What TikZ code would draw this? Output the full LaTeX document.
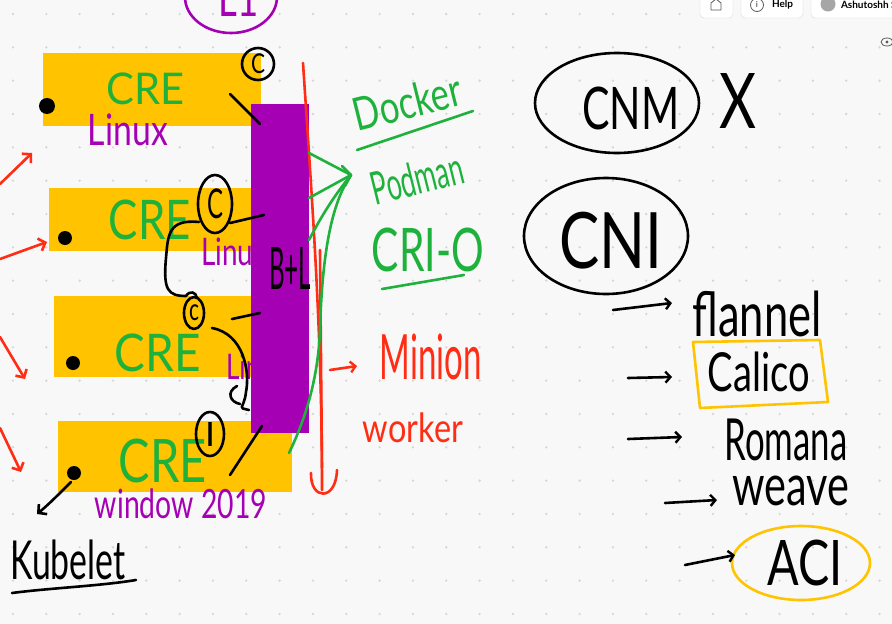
\documentclass[tikz,border=0pt]{standalone}
\usepackage{graphicx}
\usepackage{fontspec}
\setmainfont{Lato}
\usetikzlibrary{arrows.meta}
\definecolor{bgc}{RGB}{248,248,248}
\definecolor{dotc}{RGB}{214,214,214}
\definecolor{yel}{RGB}{255,195,0}
\definecolor{pur}{RGB}{166,0,180}
\definecolor{grn}{RGB}{30,178,60}
\definecolor{redc}{RGB}{255,45,20}
\definecolor{btnb}{RGB}{215,215,215}
\definecolor{icon}{RGB}{90,90,90}
\newcommand{\hw}[3]{\resizebox*{#1}{#2}{#3}}
\begin{document}
\begin{tikzpicture}[x=1pt,y=-1pt,
  hand/.style={line width=2.6pt, line cap=round, line join=round},
  txt/.style={inner sep=0pt, outer sep=0pt},
  barb/.style={-{Straight Barb[length=6pt,width=13pt,line width=2.6pt]}},
  hook/.style={-{Straight Barb[length=5pt,width=11pt,line width=2.4pt]}},
]
\useasboundingbox (0,0) rectangle (892,624);
\clip (0,0) rectangle (892,624);
\fill[bgc] (0,0) rectangle (892,624);
\foreach \i in {0,...,26}{\foreach \j in {0,...,18}{\fill[dotc] ({13+33.33*\i},{14+33.33*\j}) circle (1.3);}}

% toolbar
\filldraw[fill=white, draw=btnb, rounded corners=4pt] (700,-8) rectangle (733,18);
\draw[icon, line width=0.8pt, line join=round] (711,10)--(711,3)--(716,-1)--(721,3)--(721,10)--cycle;
\filldraw[fill=white, draw=btnb, rounded corners=4pt] (741,-8) rectangle (803,18);
\draw[icon, line width=0.8pt] (757,5) circle (6.5);
\node[txt, icon] (info) at (757,5) {\fontsize{8}{8}\selectfont\bfseries i};
\node[txt, anchor=west] (help) at (772,5) {\fontsize{10}{10}\selectfont\bfseries Help};
\filldraw[fill=white, draw=btnb, rounded corners=4pt] (811,-8) rectangle (900,18);
\fill[gray!70] (828,4) circle (7.5);
\node[txt, anchor=west] (user) at (841,5) {\fontsize{10}{10}\selectfont\bfseries Ashutoshh S};
\draw[icon, line width=0.8pt] (887,42) ellipse (6 and 4);
\fill[icon] (887,42) circle (1.6);

% purple ellipse at top
\node[txt, pur] (lone) at (239,-2) {\hw{40pt}{36pt}{L1}};
\draw[hand, pur] (231,-3) ellipse (46 and 36);

% yellow boxes
\fill[yel] (43,53) rectangle (261,126);
\fill[yel] (49,188) rectangle (255,251);
\fill[yel] (54,296) rectangle (255,377);
\fill[yel] (58,421) rectangle (292,492);

% texts in boxes
\node[txt, grn] (cre1) at (146,89) {\hw{78pt}{32pt}{CRE}};
\node[txt, grn] (cre2) at (150,220) {\hw{82pt}{40pt}{CRE}};
\node[txt, grn] (cre3) at (158,353) {\hw{86pt}{38pt}{CRE}};
\node[txt, grn] (cre4) at (163,461) {\hw{88pt}{44pt}{CRE}};
\node[txt, pur] (lin1) at (128,130) {\hw{80pt}{32pt}{Linux}};
\node[txt, pur, anchor=west] (lin2) at (201,252) {\hw{66pt}{28pt}{Linux}};
\node[txt, pur, anchor=west] (lin3) at (226,367) {\hw{62pt}{26pt}{Linux}};
\node[txt, pur] (win) at (181,504) {\hw{172pt}{30pt}{window 2019}};

% black dots
\fill (47,106) circle (8);
\fill (65,238) circle (7);
\fill (73,363) circle (7);
\fill (74,473) circle (7);
\coordinate (d4) at (71,482);
\coordinate (d4end) at (37,514);
\draw[hand, barb] (d4) .. controls (58,495) and (48,505) .. (d4end);

% Kubelet
\node[txt] (kub) at (68,560) {\hw{115pt}{40pt}{Kubelet}};
\coordinate (ku1) at (12,593);
\coordinate (ku2) at (136,580);
\draw[hand] (ku1) .. controls (50,588) and (100,586) .. (ku2);

% red arrows left
\coordinate (ra1) at (0,184); \coordinate (rb1) at (32,153);
\coordinate (ra2) at (0,259); \coordinate (rb2) at (47,242);
\coordinate (ra3) at (0,337); \coordinate (rb3) at (25,379);
\coordinate (ra4) at (0,428); \coordinate (rb4) at (21,472);
\draw[hand, redc, barb] (ra1) -- (rb1);
\draw[hand, redc, barb] (ra2) -- (rb2);
\draw[hand, redc, barb] (ra3) -- (rb3);
\draw[hand, redc, barb] (ra4) -- (rb4);

% purple bar
\fill[pur] (251,104) rectangle (309,433);
\node[txt] (bl) at (290,268) {\hw{42pt}{42pt}{B+L}};

% containers
\node[txt] (c1) at (258,64) {\hw{14pt}{20pt}{C}};
\draw[hand] (c1) ellipse (16 and 16);
\node[txt] (c2) at (215,204) {\hw{16pt}{30pt}{C}};
\draw[hand] (c2) ellipse (17 and 29);
\node[txt] (c3) at (194,313) {\hw{10pt}{16pt}{c}};
\draw[hand] (c3) ellipse (10 and 16);
\node[txt] (c4) at (210,434) {\hw{10pt}{24pt}{I}};
\draw[hand] (c4) ellipse (14 and 22);

% lines from containers to bar
\coordinate (l1a) at (230,94); \coordinate (l1b) at (260,124);
\coordinate (l2a) at (230,223); \coordinate (l2b) at (264,215);
\coordinate (l3a) at (232,319); \coordinate (l3b) at (260,313);
\coordinate (l4a) at (230,475); \coordinate (l4b) at (262,426);
\draw[hand] (l1a) -- (l1b);
\draw[hand] (l2a) -- (l2b);
\draw[hand] (l3a) -- (l3b);
\draw[hand] (l4a) -- (l4b);

% brackets
\draw[hand] (199,222) .. controls (168,219) and (168,235) .. (166,258) .. controls (163,290) and (168,296) .. (186,296);
\draw[hand] (186,296) .. controls (190,290) and (196,292) .. (197,298);
\draw[hand] (212,328) .. controls (244,334) and (250,372) .. (246,392) .. controls (244,410) and (236,407) .. (249,410);
\draw[hand] (237,386) .. controls (226,392) and (230,402) .. (240,404);

% red vertical line
\coordinate (rv1) at (303,63);
\coordinate (rv2) at (322,490);
\draw[hand, redc] (rv1) .. controls (312,200) and (322,330) .. (rv2);
\draw[hand, redc] (320,250) -- (322,468);
\draw[hand, redc] (311,473) .. controls (310,500) and (336,502) .. (337,470);

% green lines to Docker/Podman
\coordinate (G) at (351,175);
\draw[hand, grn] (309,153) -- (G);
\draw[hand, grn] (309,198) -- (G);
\draw[hand, grn] (309,240) .. controls (322,215) and (334,196) .. (G);
\draw[hand, grn] (289,453) .. controls (305,420) and (318,380) .. (320,330) .. controls (322,260) and (330,205) .. (G);
\draw[hand, grn] (342,166) -- (G) -- (345,186);

% Docker / Podman / CRI-O
\node[txt, grn, rotate=14] (dock) at (407,102) {\hw{110pt}{34pt}{Docker}};
\coordinate (du1) at (357,150); \coordinate (du2) at (473,111);
\draw[hand, grn] (du1) -- (du2);
\node[txt, grn, rotate=14] (pod) at (417,178) {\hw{94pt}{34pt}{Podman}};
\node[txt, grn] (crio) at (428,250) {\hw{112pt}{44pt}{CRI-O}};
\coordinate (cu1) at (382,289); \coordinate (cu2) at (464,275);
\draw[hand, grn] (cu1) -- (cu2);

% Minion worker
\coordinate (ma) at (330,370); \coordinate (mb) at (357,366);
\draw[hand, redc, hook] (ma) -- (mb);
\node[txt, redc] (min) at (431,357) {\hw{102pt}{46pt}{Minion}};
\node[txt, redc] (wrk) at (413,428) {\hw{100pt}{30pt}{worker}};

% CNM / CNI
\node[txt] (cnm) at (631,108) {\hw{97pt}{43pt}{CNM}};
\draw[hand] (617,103) ellipse (82 and 50);
\node[txt] (xx) at (738,101) {\hw{37pt}{55pt}{X}};
\node[txt] (cni) at (611,241) {\hw{103pt}{57pt}{CNI}};
\draw[hand] (606,236) ellipse (82 and 58);

% plugins
\node[txt] (flan) at (757,314) {\hw{129pt}{46pt}{flannel}};
\node[txt] (cal) at (759,372) {\hw{102pt}{40pt}{Calico}};
\draw[hand, yel] (693,342) -- (820,340) -- (828,402) -- (700,408) -- cycle;
\node[txt] (rom) at (786,440) {\hw{123pt}{42pt}{Romana}};
\node[txt] (wea) at (791,491) {\hw{117pt}{30pt}{weave}};
\node[txt] (aci) at (805,563) {\hw{75pt}{46pt}{ACI}};
\draw[hand, yel] (801,563) ellipse (69 and 37);

\coordinate (fa) at (613,310); \coordinate (fb) at (672,303);
\coordinate (ca) at (628,378); \coordinate (cb) at (672,377);
\coordinate (roa) at (628,439); \coordinate (rob) at (682,437);
\coordinate (wa) at (665,503); \coordinate (wb) at (717,500);
\coordinate (aa) at (685,565); \coordinate (ab) at (735,555);
\draw[hand, hook] (fa) -- (fb);
\draw[hand, hook] (ca) -- (cb);
\draw[hand, hook] (roa) -- (rob);
\draw[hand, hook] (wa) -- (wb);
\draw[hand, hook] (aa) -- (ab);
\end{tikzpicture}
\end{document}
